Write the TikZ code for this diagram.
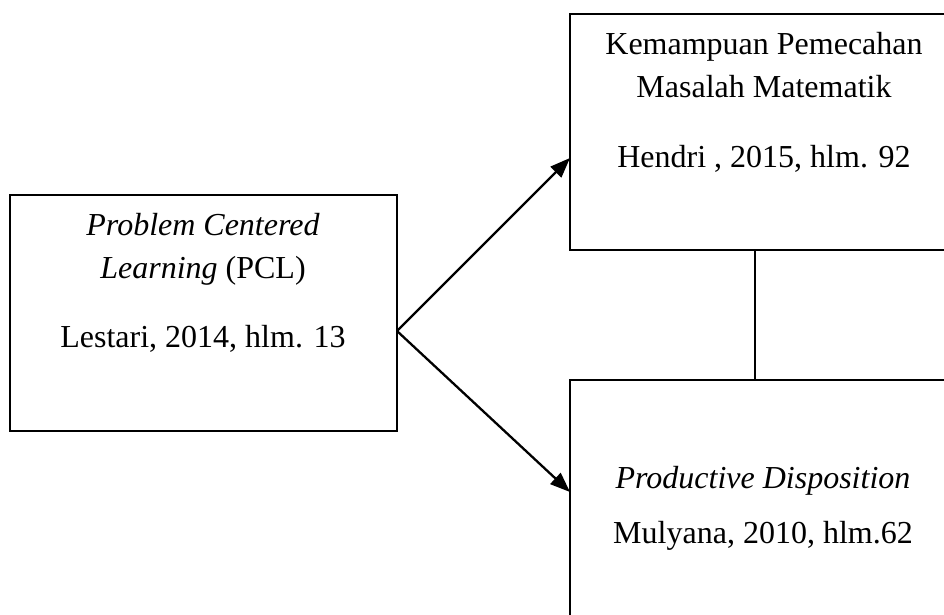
\documentclass[tikz,border=0pt]{standalone}
\usepackage{fontspec}
\setmainfont{Liberation Serif}
\usetikzlibrary{arrows.meta,calc}
\begin{document}
\begin{tikzpicture}[x=1pt,y=-1pt,
  boxstyle/.style={draw=black,line width=1.8pt,minimum width=387pt,minimum height=236pt,anchor=north west,inner sep=0pt,outer sep=0pt},
  txt/.style={anchor=base,inner sep=0pt,font=\fontsize{32}{43}\selectfont},
  arr/.style={line width=2.3pt,-{Triangle[length=20pt,width=15pt]}},
  conn/.style={line width=1.8pt}]
\useasboundingbox (0,0) rectangle (944,615);
\clip (0,0) rectangle (944,615);
\node[boxstyle] (lb) at (10,195) {};
\node[boxstyle] (tr) at (570,14) {};
\node[boxstyle,minimum height=240pt] (br) at (570,380) {};
% texts
\node[txt] (t1) at (203,235) {\itshape Problem Centered};
\node[txt] (t2) at (203,278) {\itshape Learning\upshape{} (PCL)};
\node[txt] (t3) at (203,347) {Lestari, 2014, hlm. 13};
\node[txt] (t4) at (764,55) {Kemampuan Pemecahan};
\node[txt] (t5) at (764,98) {Masalah Matematik};
\node[txt] (t6) at (764,167) {Hendri , 2015, hlm. 92};
\node[txt] (t7) at (763,488) {\itshape Productive Disposition};
\node[txt] (t8) at (763,543) {Mulyana, 2010, hlm.62};
% connectors
\coordinate (s) at (lb.north east |- 0,331);
\coordinate (e1) at (tr.north west |- 0,158);
\coordinate (e2) at (br.north west |- 0,492);
\coordinate (v) at (755,0);
\draw[arr] (s) -- (e1);
\draw[arr] (s) -- (e2);
\draw[conn] (tr.south -| v) -- (br.north -| v);
\end{tikzpicture}
\end{document}
